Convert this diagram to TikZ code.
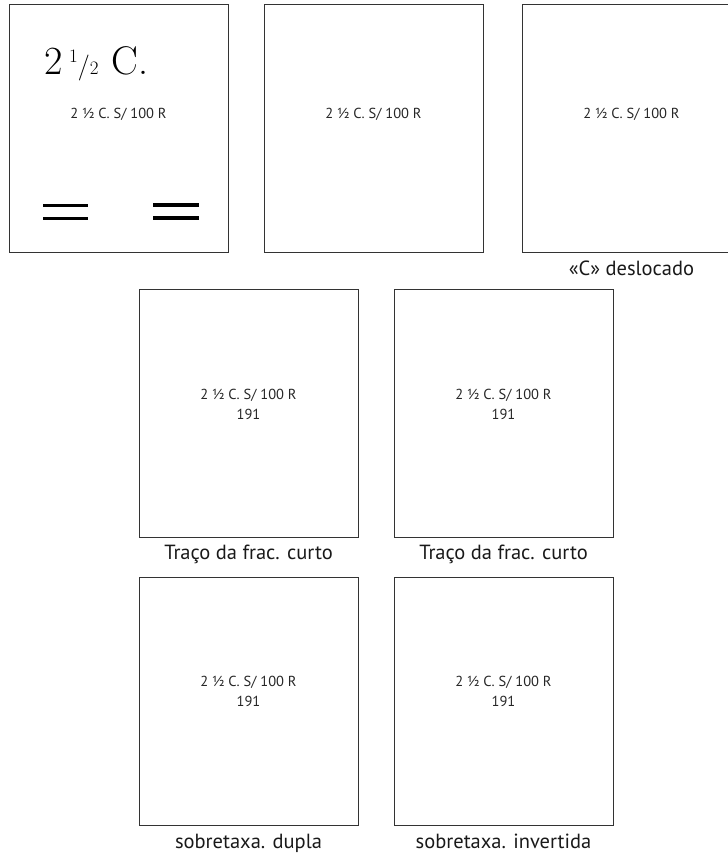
\documentclass[tikz,border=0pt]{standalone}
\usepackage{fontspec}
\setmainfont{PT Sans}
\newfontfamily\oldface{Latin Modern Roman}
\usetikzlibrary{positioning}

\tikzset{
  stampbox/.style={draw=black!80, line width=0.9pt, minimum width=219, minimum height=248, inner sep=0pt},
  overprint/.style={font=\fontsize{14.5}{20}\selectfont, align=center, text=black!85, inner sep=0pt},
  caption/.style={font=\fontsize{20.5}{22}\selectfont, text=black!90, inner sep=0pt},
}

\begin{document}
\begin{tikzpicture}[x=1pt, y=-1pt]
  \useasboundingbox (0,0) rectangle (728,857);
  % stamp outlines
  \foreach \n/\cx/\cy in {s1/118.5/128, s2/373.5/128, s3/631.5/128,
                          s4/248.5/413.5, s5/503.5/413.5,
                          s6/248.5/701, s7/503.5/701}
    \node[stampbox] (\n) at (\cx,\cy) {};
  % overprints
  \node[overprint] (o1) at (118.5,114) {2 ½ C. S/ 100 R};
  \node[overprint] (o2) at (373.5,114) {2 ½ C. S/ 100 R};
  \node[overprint] (o3) at (631.5,114) {2 ½ C. S/ 100 R};
  \node[overprint] (o4) at (248.5,404) {2 ½ C. S/ 100 R\\191};
  \node[overprint] (o5) at (503.5,404) {2 ½ C. S/ 100 R\\191};
  \node[overprint] (o6) at (248.5,691.5) {2 ½ C. S/ 100 R\\191};
  \node[overprint] (o7) at (503.5,691.5) {2 ½ C. S/ 100 R\\191};
  % printed value on the first stamp
  \node[font=\oldface\fontsize{40}{40}\selectfont, anchor=base west, inner sep=0pt] (val) at (44,74)
    {2\,\raisebox{.28em}{\fontsize{19}{19}\selectfont 1}{\fontsize{26}{26}\selectfont /}{\fontsize{19}{19}\selectfont 2}\,\,C.};
  \foreach \yy in {205,218} {
    \draw[line width=3pt] (43,\yy) -- (88,\yy);
    \draw[line width=4pt] (153,\yy) -- (199,\yy);
  }
  % captions
  \node[caption, below=8pt of s3] (c3) {«C» deslocado};
  \node[caption, below=7pt of s4] (c4) {Traço da frac. curto};
  \node[caption, below=7pt of s5] (c5) {Traço da frac. curto};
  \node[caption, below=8pt of s6] (c6) {sobretaxa. dupla};
  \node[caption, below=8pt of s7] (c7) {sobretaxa. invertida};
\end{tikzpicture}
\end{document}
